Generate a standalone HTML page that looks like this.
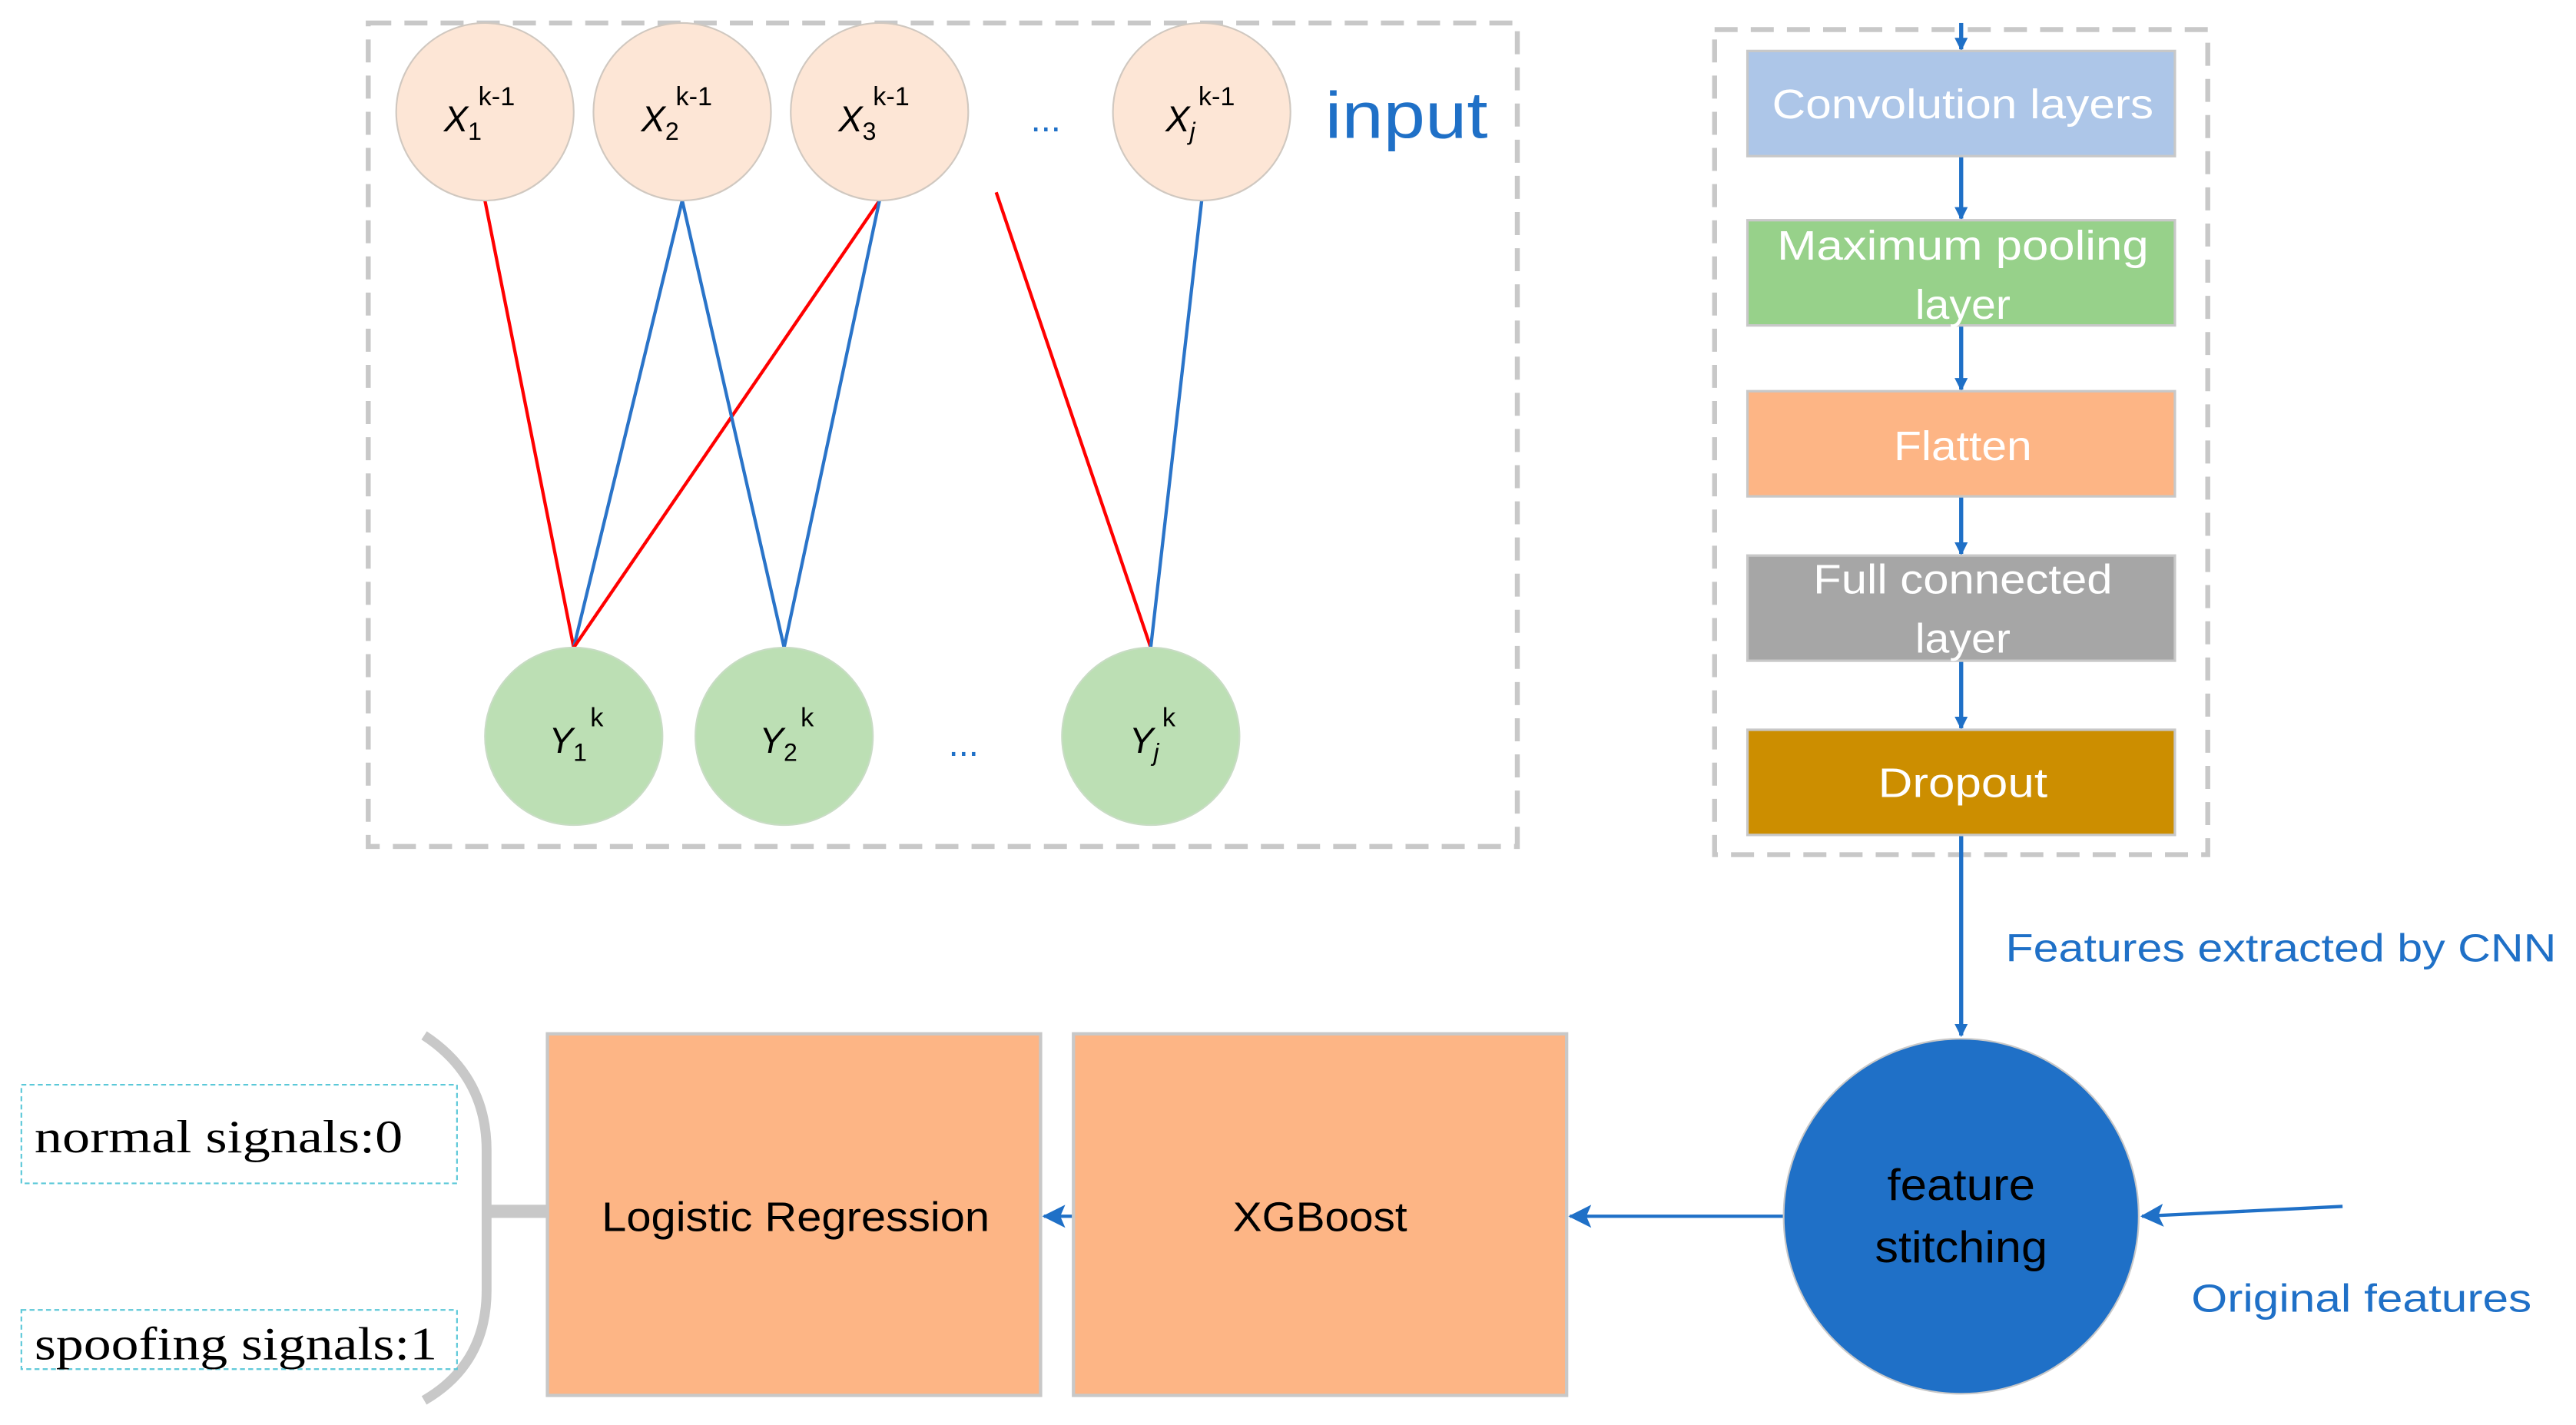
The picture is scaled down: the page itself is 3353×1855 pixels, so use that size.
<!DOCTYPE html>
<html><head><meta charset="utf-8"><style>html,body{margin:0;padding:0;background:#fff}svg{display:block}</style></head><body>
<svg width="3353" height="1855" viewBox="0 0 1567 867" preserveAspectRatio="none" xmlns="http://www.w3.org/2000/svg" font-family="Liberation Sans, sans-serif">
<defs><marker id="a" markerWidth="8" markerHeight="8" refX="7" refY="4" orient="auto" markerUnits="userSpaceOnUse"><path d="M0,0 L8,4 L0,8 Z" fill="#1f70c7"/></marker>
<marker id="b" markerWidth="14" markerHeight="14" refX="13" refY="7" orient="auto" markerUnits="userSpaceOnUse"><path d="M0,0 L14,7 L0,14 L3,7 Z" fill="#1f70c7"/></marker></defs>
<rect x="224" y="14" width="699" height="501" fill="none" stroke="#c8c8c8" stroke-width="3" stroke-dasharray="14,8"/>
<g stroke-width="2">
<line x1="295" y1="122" x2="349" y2="394" stroke="#f00"/>
<line x1="415" y1="122" x2="349" y2="394" stroke="#2a74c9"/>
<line x1="535" y1="122" x2="349" y2="394" stroke="#f00"/>
<line x1="415" y1="122" x2="477" y2="394" stroke="#2a74c9"/>
<line x1="535" y1="122" x2="477" y2="394" stroke="#2a74c9"/>
<line x1="606" y1="117" x2="700" y2="394" stroke="#f00"/>
<line x1="731" y1="122" x2="700" y2="394" stroke="#2a74c9"/>
</g>
<g fill="#fde6d6" stroke="#d0c8c0">
<circle cx="295" cy="68" r="54"/><circle cx="415" cy="68" r="54"/><circle cx="535" cy="68" r="54"/><circle cx="731" cy="68" r="54"/></g>
<g fill="#bcdfb4" stroke="#c8dcc4">
<circle cx="349" cy="448" r="54"/><circle cx="477" cy="448" r="54"/><circle cx="700" cy="448" r="54"/></g>
<g font-size="22" font-style="italic" fill="#000">
<text x="270" y="80">X<tspan font-size="15" font-style="normal" dy="5">1</tspan><tspan font-size="16" font-style="normal" dy="-21" dx="-2">k-1</tspan></text>
<text x="390" y="80">X<tspan font-size="15" font-style="normal" dy="5">2</tspan><tspan font-size="16" font-style="normal" dy="-21" dx="-2">k-1</tspan></text>
<text x="510" y="80">X<tspan font-size="15" font-style="normal" dy="5">3</tspan><tspan font-size="16" font-style="normal" dy="-21" dx="-2">k-1</tspan></text>
<text x="709" y="80">X<tspan font-size="15" dy="5">j</tspan><tspan font-size="16" font-style="normal" dy="-21" dx="2">k-1</tspan></text>
<text x="334" y="458">Y<tspan font-size="15" font-style="normal" dy="5">1</tspan><tspan font-size="16" font-style="normal" dy="-21" dx="2">k</tspan></text>
<text x="462" y="458">Y<tspan font-size="15" font-style="normal" dy="5">2</tspan><tspan font-size="16" font-style="normal" dy="-21" dx="2">k</tspan></text>
<text x="687" y="458">Y<tspan font-size="15" dy="5">j</tspan><tspan font-size="16" font-style="normal" dy="-21" dx="2">k</tspan></text>
</g>
<text x="627" y="80" font-size="22" fill="#1f70c7">...</text>
<text x="577" y="460" font-size="22" fill="#1f70c7">...</text>
<text x="806" y="84" font-size="40" fill="#1f70c7" textLength="99" lengthAdjust="spacingAndGlyphs">input</text>
<rect x="1043" y="18" width="300" height="502" fill="none" stroke="#c8c8c8" stroke-width="3" stroke-dasharray="14,8"/>
<g stroke="#1f70c7" stroke-width="2.5">
<line x1="1193" y1="14" x2="1193" y2="30" marker-end="url(#a)"/>
<line x1="1193" y1="95" x2="1193" y2="133" marker-end="url(#a)"/>
<line x1="1193" y1="198" x2="1193" y2="237" marker-end="url(#a)"/>
<line x1="1193" y1="302" x2="1193" y2="337" marker-end="url(#a)"/>
<line x1="1193" y1="402" x2="1193" y2="443" marker-end="url(#a)"/>
<line x1="1193" y1="508" x2="1193" y2="630" marker-end="url(#a)"/>
<line x1="1425" y1="734" x2="1303" y2="740" marker-end="url(#b)" stroke-width="2"/>
<line x1="1086" y1="740" x2="955" y2="740" marker-end="url(#b)" stroke-width="2"/>
<line x1="653" y1="740" x2="635" y2="740" marker-end="url(#b)" stroke-width="2"/>
</g>
<g stroke="#c8c8c8" stroke-width="1.5">
<rect x="1063" y="31" width="260" height="64" fill="#adc6e8"/>
<rect x="1063" y="134" width="260" height="64" fill="#97d18a"/>
<rect x="1063" y="238" width="260" height="64" fill="#fdb585"/>
<rect x="1063" y="338" width="260" height="64" fill="#a6a6a6"/>
<rect x="1063" y="444" width="260" height="64" fill="#cc8e00"/>
</g>
<g fill="#fff" font-size="25" text-anchor="middle">
<text x="1194" y="72" textLength="232" lengthAdjust="spacingAndGlyphs">Convolution layers</text>
<text x="1194" y="158" textLength="226" lengthAdjust="spacingAndGlyphs">Maximum pooling</text><text x="1194" y="194" textLength="58" lengthAdjust="spacingAndGlyphs">layer</text>
<text x="1194" y="280" textLength="84" lengthAdjust="spacingAndGlyphs">Flatten</text>
<text x="1194" y="361" textLength="182" lengthAdjust="spacingAndGlyphs">Full connected</text><text x="1194" y="397" textLength="58" lengthAdjust="spacingAndGlyphs">layer</text>
<text x="1194" y="485" textLength="103" lengthAdjust="spacingAndGlyphs">Dropout</text>
</g>
<text x="1220" y="585" font-size="24" fill="#1f70c7" textLength="335" lengthAdjust="spacingAndGlyphs">Features extracted by CNN</text>
<circle cx="1193" cy="740" r="108" fill="#1f70c7" stroke="#c8c8c8"/>
<text x="1193" y="730" font-size="27" text-anchor="middle" fill="#000" textLength="90" lengthAdjust="spacingAndGlyphs">feature</text>
<text x="1193" y="768" font-size="27" text-anchor="middle" fill="#000" textLength="105" lengthAdjust="spacingAndGlyphs">stitching</text>
<text x="1333" y="798" font-size="24" fill="#1f70c7" textLength="207" lengthAdjust="spacingAndGlyphs">Original features</text>
<rect x="653" y="629" width="300" height="220" fill="#fdb585" stroke="#c8c8c8" stroke-width="2"/>
<rect x="333" y="629" width="300" height="220" fill="#fdb585" stroke="#c8c8c8" stroke-width="2"/>
<text x="803" y="749" font-size="25" text-anchor="middle" textLength="106" lengthAdjust="spacingAndGlyphs">XGBoost</text>
<text x="484" y="749" font-size="25" text-anchor="middle" textLength="236" lengthAdjust="spacingAndGlyphs">Logistic Regression</text>
<path d="M258,630 Q296,655 296,700 L296,785 Q296,830 258,852" fill="none" stroke="#c8c8c8" stroke-width="6"/>
<rect x="296" y="733" width="38" height="8" fill="#c8c8c8"/>
<rect x="13" y="660" width="265" height="60" fill="#fff" stroke="#5bc8d8" stroke-dasharray="3,2"/>
<rect x="13" y="797" width="265" height="36" fill="#fff" stroke="#5bc8d8" stroke-dasharray="3,2"/>
<g font-family="Liberation Serif, serif" font-size="28" fill="#000">
<text x="21" y="701" textLength="224" lengthAdjust="spacingAndGlyphs">normal signals:0</text>
<text x="21" y="827" textLength="245" lengthAdjust="spacingAndGlyphs">spoofing signals:1</text></g>
</svg>
</body></html>
